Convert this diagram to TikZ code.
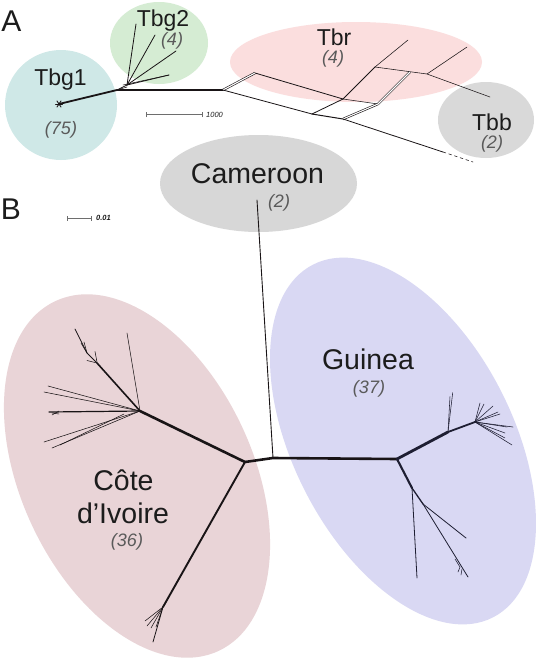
\documentclass[tikz,border=0pt]{standalone}
\usepackage{fontspec}
\setmainfont{Liberation Sans}
\definecolor{cTbgA}{RGB}{207,232,231}
\definecolor{cTbgB}{RGB}{213,236,211}
\definecolor{cTbr}{RGB}{251,222,222}
\definecolor{cTbb}{RGB}{217,217,217}
\definecolor{cCam}{RGB}{215,215,215}
\definecolor{cCote}{RGB}{233,212,215}
\definecolor{cGui}{RGB}{217,216,243}
\definecolor{labelc}{RGB}{28,28,28}
\definecolor{cntc}{RGB}{90,90,90}
\definecolor{treec}{RGB}{25,20,22}
\definecolor{treeg}{RGB}{30,30,50}
\definecolor{barc}{RGB}{110,110,110}
\tikzset{
  biglab/.style={font=\fontsize{28.5}{34}\selectfont, text=labelc, inner sep=0pt, anchor=base},
  midlab/.style={font=\fontsize{23}{27}\selectfont, text=labelc, inner sep=0pt, anchor=base},
  panlab/.style={font=\fontsize{30}{34}\selectfont, text=labelc, inner sep=0pt},
  cnt/.style={font=\fontsize{18}{21}\selectfont\itshape, text=cntc, inner sep=0pt},
  barlab/.style={font=\fontsize{7.5}{9}\selectfont\itshape, text=labelc, inner sep=0pt, anchor=west},
  br/.style={draw=treec, line cap=round, line join=round},
  brg/.style={draw=treeg, line cap=round, line join=round},
  fat/.style={line width=2.6pt},
  med/.style={line width=1.6pt},
  thin/.style={line width=0.8pt},
  fine/.style={line width=0.55pt},
  dbl/.style={double=white, double distance=1.1pt, line width=0.6pt, draw=treec},
  sbar/.style={draw=barc, line width=0.8pt}
}
\begin{document}
\begin{tikzpicture}[x=1pt, y=-1pt]
\useasboundingbox (0,0) rectangle (538,659);
\fill[white] (0,0) rectangle (538,659);

% ---------- Panel A regions ----------
\fill[cTbgA] (61,105) ellipse [x radius=56, y radius=55];
\fill[cTbgB] (159,43) ellipse [x radius=49, y radius=41];
\fill[cTbr] (356,62) ellipse [x radius=126, y radius=40];
\fill[cTbb] (486,120) ellipse [x radius=48, y radius=38];

% ---------- Panel B regions ----------
\fill[cCam] (258.5,183.5) ellipse [x radius=98.5, y radius=48.5];
\fill[cCote, rotate around={25:(137,476)}] (137,476) ellipse [x radius=116, y radius=193];
\fill[cGui, rotate around={27:(403,441)}] (403,441) ellipse [x radius=110, y radius=198];

% ---------- Panel A tree ----------
\coordinate (S) at (59,104);
\coordinate (A1) at (117,90);
\coordinate (A2) at (127,85);
\coordinate (T1) at (136,24);
\coordinate (T2) at (155,35);
\coordinate (T3) at (176,51);
\coordinate (T4) at (169,75);
\coordinate (P1) at (223,90);
\coordinate (P2) at (255,73);
\coordinate (P3) at (312,114);
\coordinate (P4) at (343,99);
\coordinate (P5) at (343,119);
\coordinate (P6) at (375,67);
\coordinate (P7) at (408,40);
\coordinate (P8) at (378,104);
\coordinate (P9) at (410,72);
\coordinate (P10) at (427,74);
\coordinate (P11) at (467,47);
\coordinate (P12) at (490,97);
\coordinate (P13) at (443,152);
\coordinate (P14) at (473,162);

\draw[br, line width=1.8pt] (S) -- (A1) -- (P1);
\draw[br, thin] (A1) -- (A2);
\draw[br, fine] (A1) -- ([yshift=-2]A2);
\draw[br, thin] (A2) -- (T1);
\draw[br, thin] (A2) -- (T2);
\draw[br, thin] (A2) -- (T3);
\draw[br, thin] (A2) -- (T4);
\draw[br, fine] ([xshift=-4]A2) -- (T4);
% star
\draw[br, line width=0.9pt] ([xshift=-3.5]S) -- ([xshift=3.5]S);
\draw[br, line width=0.9pt] ([shift={(-2,-3)}]S) -- ([shift={(2,3)}]S);
\draw[br, line width=0.9pt] ([shift={(2,-3)}]S) -- ([shift={(-2,3)}]S);

\draw[dbl] (P1) -- (P2);
\draw[br, thin] (P1) -- (P3);
\draw[br, thin] (P2) -- (P4);
\draw[br, thin] (P3) -- (P4);
\draw[br, line width=1pt] (P3) -- (P5);
\draw[br, fine] (P4) -- (P8);
\draw[br, thin] (P4) -- (P6);
\draw[br, fine] (P6) -- (P7);
\draw[br, fine] (P6) -- (P10);
\draw[dbl] (P8) -- (P9);
\draw[dbl] (P5) -- (P8);
\draw[br, fine] (P10) -- (P11);
\draw[br, fine] (P10) -- (P12);
\draw[br, thin] (P5) -- (P13);
\draw[br, fine, dashed] (P13) -- (P14);

% scale bar A
\coordinate (SA1) at (146,114.5);
\coordinate (SA2) at (202,114.5);
\draw[sbar] (SA1) -- (SA2);
\draw[sbar] ([yshift=-2.5]SA1) -- ([yshift=2.5]SA1);
\draw[sbar] ([yshift=-2.5]SA2) -- ([yshift=2.5]SA2);
\node[barlab] (sa) at (206,114.5) {1000};

% ---------- Panel B tree ----------
\coordinate (K) at (257,200);
\coordinate (J) at (273,458);
\coordinate (C1) at (245,462);
\coordinate (G1) at (397,459);
\draw[br, line width=0.9pt] (K) -- (J);
\draw[br, fat] (C1) -- (J) -- (G1);

% Cote d'Ivoire
\coordinate (CI1) at (140,411);
\coordinate (Pa) at (97,363);
\coordinate (Pb) at (87,353);
\coordinate (Pt) at (75,329);
\draw[br, fat] (C1) -- (CI1);
\draw[br, med] (CI1) -- (Pa);
\draw[br, thin] (Pa) -- (Pb) -- (Pt);
\draw[br, fine] (Pb) -- (81,343);
\draw[br, fine] (Pb) -- (84,342);
\draw[br, fine] (95,351.5) -- (97,362);
\draw[br, fine] (87,360.5) -- (97,363);
\draw[br, fine] (CI1) -- (127,333);
\draw[br, fine] (CI1) -- (48,386);
\draw[br, fine] (CI1) -- (44,392);
\draw[br, line width=1.2pt] (CI1) -- (49,412);
\draw[br, fine] (59,411) -- (52,415);
\draw[br, fine] (59,414) -- (52,413);
\draw[br, fine] (CI1) -- (44,442);
\draw[br, fine] (CI1) -- (52,448);
\draw[br, fine] (124,414) -- (60,445);

\coordinate (CI2) at (163,607);
\draw[br, line width=1.9pt] (C1) -- (CI2);
\draw[br, thin] (CI2) -- (153,642);
\draw[br, fine] (CI2) -- (145,621);
\draw[br, fine] (CI2) -- (147,626);
\draw[br, fine] (CI2) -- (151,628);
\draw[br, fine] (CI2) -- (156,627);

% Guinea
\coordinate (U1) at (448,432);
\coordinate (U2) at (475,422);
\coordinate (L1) at (412,488);
\coordinate (L2) at (423,504);
\draw[brg, line width=2.8pt] (G1) -- (U1);
\draw[brg, line width=1.8pt] (U1) -- (U2);
\draw[brg, fine] (U1) -- (452.7,392.7);
\draw[brg, fine] (U1) -- (450,396.7);
\foreach \p in {(480,403),(484,404),(493,406),(498,412),(500,414),(513,427),(507,427),(512,445),(505,438),(505,433)}
  \draw[brg, fine] (U2) -- \p;
\draw[brg, line width=2.1pt] (G1) -- (L1);
\draw[brg, line width=1.3pt] (L1) -- (L2);
\draw[brg, thin] (L1) -- (417,578);
\draw[brg, thin] (L2) -- (466,538);
\draw[brg, thin] (L2) -- (468,577);
\draw[brg, fine] (460,567) -- (455,559);
\draw[brg, fine] (460,567) -- (458,572);
\draw[brg, fine] (462,569) -- (461,575);

% scale bar B
\coordinate (SB1) at (67,218);
\coordinate (SB2) at (91,218);
\draw[sbar, line width=0.7pt] (SB1) -- (SB2);
\draw[sbar, line width=0.7pt] ([yshift=-2.5]SB1) -- ([yshift=2.5]SB1);
\draw[sbar, line width=0.7pt] ([yshift=-2.5]SB2) -- ([yshift=2.5]SB2);
\node[barlab, font=\fontsize{7.5}{9}\selectfont\bfseries\itshape] (sb) at (96,218) {0.01};

% ---------- Labels ----------
\node[panlab] (labA) at (11.5,21) {A};
\node[panlab] (labB) at (11,209) {B};

\node[midlab] (tbg1) at (60.5,85) {Tbg1};
\node[cnt] (n75) at (61,129.5) {(75)};
\node[midlab] (tbg2) at (163,26) {Tbg2};
\node[cnt] (n4a) at (172,41) {(4)};
\node[midlab] (tbr) at (334,45) {Tbr};
\node[cnt] (n4b) at (333,58.5) {(4)};
\node[midlab] (tbb) at (492,130) {Tbb};
\node[cnt] (n2a) at (492,143.5) {(2)};

\node[biglab] (cam) at (257.5,183) {Cameroon};
\node[cnt] (n2b) at (279,203) {(2)};
\node[biglab] (gui) at (368,369.5) {Guinea};
\node[cnt] (n37) at (369,389) {(37)};
\node[biglab] (cote1) at (123.5,490.5) {Côte};
\node[biglab] (cote2) at (123,523.5) {d’Ivoire};
\node[cnt] (n36) at (127,542) {(36)};
\end{tikzpicture}
\end{document}
